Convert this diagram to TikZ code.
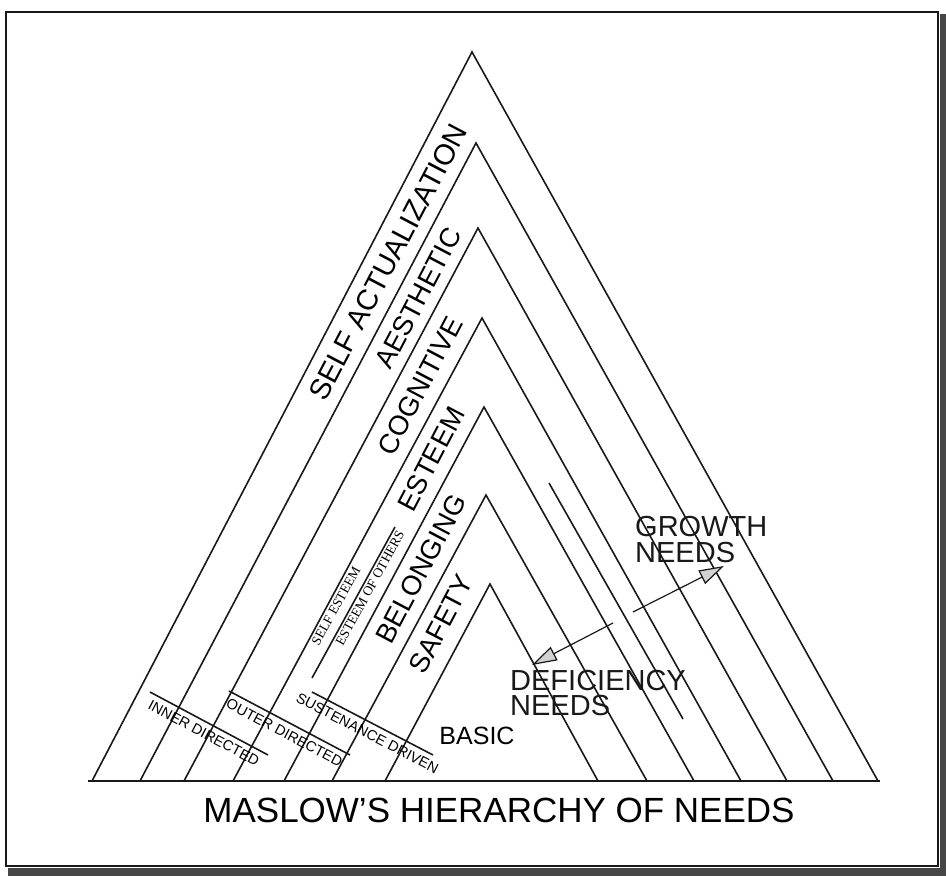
\documentclass[tikz,border=0pt]{standalone}
\usepackage{fontspec}
\setmainfont{Liberation Sans}
\newfontfamily\scanserif{Liberation Serif}
\usetikzlibrary{arrows.meta, calc, positioning}
\definecolor{scan_black}{RGB}{25,25,25}
\definecolor{scan_shadow}{RGB}{70,70,70}
\newcommand{\labelsize}[1]{\fontsize{#1}{#1}\selectfont}
\tikzset{
    tri line/.style={draw=scan_black, line width=1.6pt, line join=miter},
    band label/.style={font=\labelsize{27.5}, rotate=62.3, inner sep=0pt},
    split label/.style={font=\scanserif\labelsize{13.5}, rotate=61.3, inner sep=0pt},
    cut line/.style={draw=scan_black, line width=1.6pt},
    cut label/.style={font=\labelsize{14.5}, inner sep=0pt, below=5pt, sloped},
    need label/.style={font=\labelsize{29}, align=left, inner sep=0pt,
        anchor=north west, text=scan_black},
    need arrow/.style={draw=scan_black, line width=1.2pt,
        -{Triangle[length=25pt, width=15pt, fill=gray!35]}},
}

\begin{document}
\begin{tikzpicture}[x=1pt, y=-1pt]
    \useasboundingbox (0,0) rectangle (946,876);
    % frame and scan shadow
    \fill[scan_shadow] (940,14) rectangle (946,876);
    \fill[scan_shadow] (8,868) rectangle (946,876);
    \draw[scan_black, line width=2pt] (6,12) rectangle (938,866);

    % nested triangles: apex x / apex y / left foot / right foot
    \foreach \ax/\ay/\lx/\rx in {472/52/92/878, 476/143/140/833,
        478/228/184/787, 482/318/233/741, 484/407/284/694,
        486/495/332/647, 490/584/385/598}
        \draw[tri line] (\lx,781) -- (\ax,\ay) -- (\rx,781);
    \draw[tri line] (88,781) -- (880,781);

    % short dividers
    \coordinate (div lo) at (312,678);
    \coordinate (div hi) at (395,527);
    \draw[tri line] (div lo) -- (div hi);
    \coordinate (rdiv hi) at (549,483);
    \coordinate (rdiv lo) at (683,719);
    \draw[tri line] (rdiv hi) -- (rdiv lo);

    % level labels
    \node[band label, font=\labelsize{29}] (selfact) at (388,262) {SELF ACTUALIZATION};
    \node[band label] (aesthetic) at (418,298) {AESTHETIC};
    \node[band label] (cognitive) at (420,386) {COGNITIVE};
    \node[band label] (esteem) at (431,459) {ESTEEM};
    \node[band label] (belonging) at (421,569) {BELONGING};
    \node[band label] (safety) at (441,624) {SAFETY};
    \node[font=\labelsize{25}, inner sep=0pt] (basic) at (477,736) {BASIC};

    \node[split label] (selfesteem) at (336,606) {SELF ESTEEM};
    \node[split label] (othersesteem) at (370,588) {ESTEEM OF OTHERS};

    % crossing lines at the foot
    \draw[cut line] (150,692) -- node[cut label, midway] (innerlbl) {INNER DIRECTED} (268,755);
    \draw[cut line] (229,691) -- node[cut label, midway] (outerlbl) {OUTER DIRECTED} (350,755);
    \draw[cut line] (312,692) -- node[cut label, midway] (sustlbl) {SUSTENANCE DRIVEN} (433,755);

    % growth / deficiency
    \node[need label] (growth) at (635,516) {GROWTH\\[-3pt]NEEDS};
    \node[need label] (deficiency) at (510,670) {DEFICIENCY\\[-4pt]NEEDS};
    \coordinate (split lo) at (613,623);
    \coordinate (split hi) at (633,612);
    \coordinate (defic tip) at (532,665);
    \coordinate (growth tip) at (724,566);
    \draw[need arrow] (split lo) -- (defic tip);
    \draw[need arrow] (split hi) -- (growth tip);

    \node[font=\labelsize{35}, inner sep=0pt] (title) at (499,810) {MASLOW'S HIERARCHY OF NEEDS};
\end{tikzpicture}
\end{document}
